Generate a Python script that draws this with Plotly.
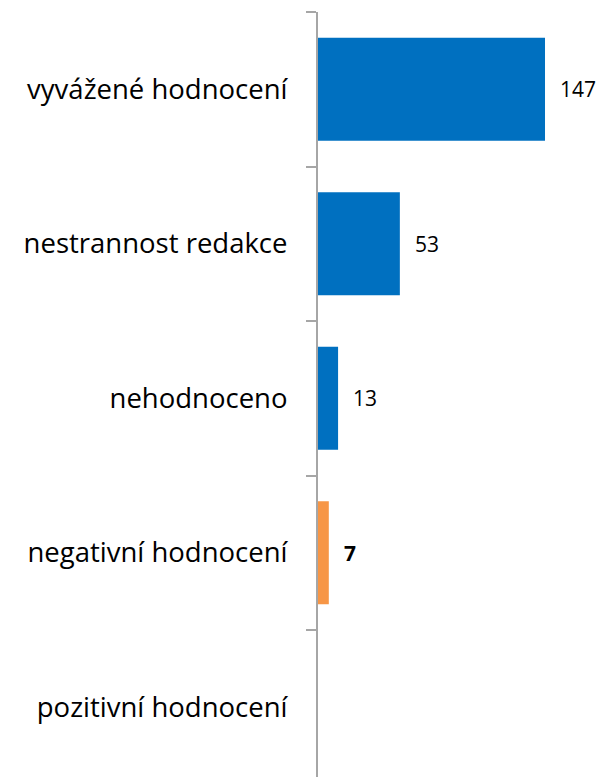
import plotly.graph_objects as go

categories = ["vyvážené hodnocení", "nestrannost redakce", "nehodnoceno", "negativní hodnocení", "pozitivní hodnocení"]
values = [147, 53, 13, 7, 0]
colors = ["#0070C0", "#0070C0", "#0070C0", "#F79646", "#0070C0"]
label_bold = [False, False, False, True, False]

FONT = "Open Sans"

fig = go.Figure()
fig.add_trace(go.Bar(
    y=categories, x=values, orientation="h",
    marker=dict(color=colors, line=dict(width=0)),
    width=0.667, hoverinfo="skip",
))

for c, v, b in zip(categories, values, label_bold):
    if v <= 0:
        continue
    fig.add_annotation(
        x=v, y=c, xref="x", yref="y",
        text=f"<b>{v}</b>" if b else str(v),
        showarrow=False, xanchor="left", xshift=13,
        font=dict(family=FONT, size=21, color="#000000"),
    )

fig.update_layout(
    width=596, height=777,
    margin=dict(l=310, r=0, t=4, b=0),
    paper_bgcolor="white", plot_bgcolor="white",
    showlegend=False,
    font=dict(family=FONT, color="#000000"),
    xaxis=dict(range=[0, 185.2], visible=False, showgrid=False, zeroline=False),
    yaxis=dict(
        type="category",
        categoryorder="array", categoryarray=categories,
        range=[4.503, -0.5],
        showline=True, linecolor="#A6A6A6", linewidth=2,
        ticks="outside", ticklen=10, tickwidth=2, tickcolor="#A6A6A6",
        tickson="boundaries",
        showgrid=False, zeroline=False,
        tickfont=dict(family=FONT, size=27.5, color="#000000"),
        ticklabelstandoff=23,
    ),
)

fig.write_html("out.html")
